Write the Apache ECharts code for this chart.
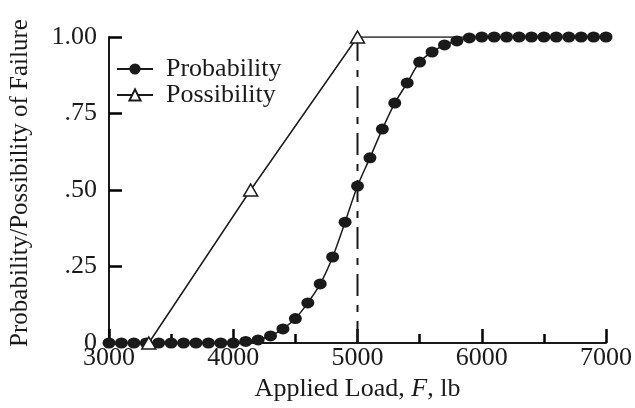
<!DOCTYPE html>
<html>
<head>
<meta charset="utf-8">
<script src="https://cdn.jsdelivr.net/npm/echarts@6/dist/echarts.min.js"></script>
<style>
  html, body { margin: 0; padding: 0; background: #fff; }
  #chart { width: 635px; height: 408px; }
</style>
</head>
<body>
<div id="chart"></div>
<script>
// Applied load (lb) at which the failure probability is evaluated
const loads = [
  3000, 3100, 3200, 3300, 3400, 3500, 3600, 3700, 3800, 3900,
  4000, 4100, 4200, 4300, 4400, 4500, 4600, 4700, 4800, 4900,
  5000, 5100, 5200, 5300, 5400, 5500, 5600, 5700, 5800, 5900,
  6000, 6100, 6200, 6300, 6400, 6500, 6600, 6700, 6800, 6900,
  7000
];
// Probability of failure at each load
const probability = [
  0, 0, 0, 0, 0, 0, 0, 0, 0, 0,
  0, 0.005, 0.01, 0.023, 0.046, 0.08, 0.131, 0.193, 0.281, 0.395,
  0.513, 0.605, 0.699, 0.784, 0.85, 0.918, 0.951, 0.974, 0.987, 0.997,
  1, 1, 1, 1, 1, 1, 1, 1, 1, 1,
  1
];
// Possibility of failure (rises to full possibility, then stays flat)
const possibilityLoads = [3320, 4140, 5000, 7000];
const possibility = [0, 0.5, 1, 1];
// Nominal load marked by the dash-dot line
const nominalLoad = [5000, 5000];
const nominalLevel = [0, 1];

// Value-axis tick labels
const yTickValues = [0, 0.25, 0.5, 0.75, 1];
const yTickLabels = ['0', '.25', '.50', '.75', '1.00'];

const FONT = '"Liberation Serif", "Times New Roman", serif';
const INK = '#1a1a1a';
const TICK = '#000000';
const FS = 26;

const probData = loads.map((x, i) => [x, probability[i]]);
const possData = possibilityLoads.map((x, i) => {
  const item = { value: [x, possibility[i]] };
  if (i === possibilityLoads.length - 1) item.symbol = 'none';
  return item;
});
const nominalData = nominalLoad.map((x, i) => [x, nominalLevel[i]]);

const chart = echarts.init(document.getElementById('chart'), null, { renderer: 'canvas' });
chart.setOption({
  animation: false,
  backgroundColor: '#fff',
  textStyle: { fontFamily: FONT, color: INK },
  grid: { left: 104, right: 23, top: 37, bottom: 65 },
  legend: {
    orient: 'vertical',
    left: 111,
    top: 51,
    itemWidth: 36,
    itemHeight: 14,
    itemGap: 0,
    textStyle: { fontSize: FS, color: INK, padding: [0, 0, 0, 8] },
    data: ['Probability', 'Possibility']
  },
  xAxis: {
    type: 'value',
    min: 3000,
    max: 7000,
    interval: 1000,
    name: '{n|Applied Load, }{i|F}{n|, lb}',
    nameLocation: 'middle',
    nameGap: 28,
    nameTextStyle: {
      rich: {
        n: { fontSize: FS, color: INK },
        i: { fontSize: FS, color: INK, fontStyle: 'italic' }
      }
    },
    axisLine: { show: true, onZero: false, lineStyle: { color: INK, width: 2 } },
    axisTick: { show: true, inside: true, length: 14, lineStyle: { color: TICK, width: 2.5 } },
    minorTick: { show: true, splitNumber: 2, length: 9, lineStyle: { color: TICK, width: 2.5 } },
    axisLabel: { fontSize: FS, color: INK, margin: 2, formatter: v => String(v) },
    splitLine: { show: false }
  },
  yAxis: {
    type: 'value',
    min: 0,
    max: 1,
    interval: 0.25,
    name: 'Probability/Possibility of Failure',
    nameLocation: 'middle',
    nameGap: 76,
    nameTextStyle: { fontSize: 25, color: INK, padding: [0, 0, 0, 14] },
    axisLine: { show: true, onZero: false, lineStyle: { color: INK, width: 2 } },
    axisTick: { show: true, inside: true, length: 13, lineStyle: { color: TICK, width: 2.5 } },
    axisLabel: {
      fontSize: FS, color: INK, margin: 12,
      formatter: v => {
        const k = yTickValues.findIndex(t => Math.abs(t - v) < 1e-9);
        return k >= 0 ? yTickLabels[k] : '';
      }
    },
    splitLine: { show: false }
  },
  series: [
    {
      name: 'Nominal',
      type: 'line',
      data: nominalData,
      symbol: 'none',
      lineStyle: { color: INK, width: 2, type: [22, 9, 7, 9] }
    },
    {
      name: 'Probability',
      type: 'line',
      data: probData,
      smooth: 0.3,
      symbol: 'circle',
      symbolSize: [13, 11],
      z: 3,
      itemStyle: { color: INK },
      lineStyle: { color: INK, width: 1.5 }
    },
    {
      name: 'Possibility',
      type: 'line',
      data: possData,
      symbol: 'triangle',
      symbolSize: [14, 12],
      z: 4,
      itemStyle: { color: '#fff', borderColor: INK, borderWidth: 1.5 },
      lineStyle: { color: INK, width: 1.5 }
    }
  ]
});
</script>
</body>
</html>
